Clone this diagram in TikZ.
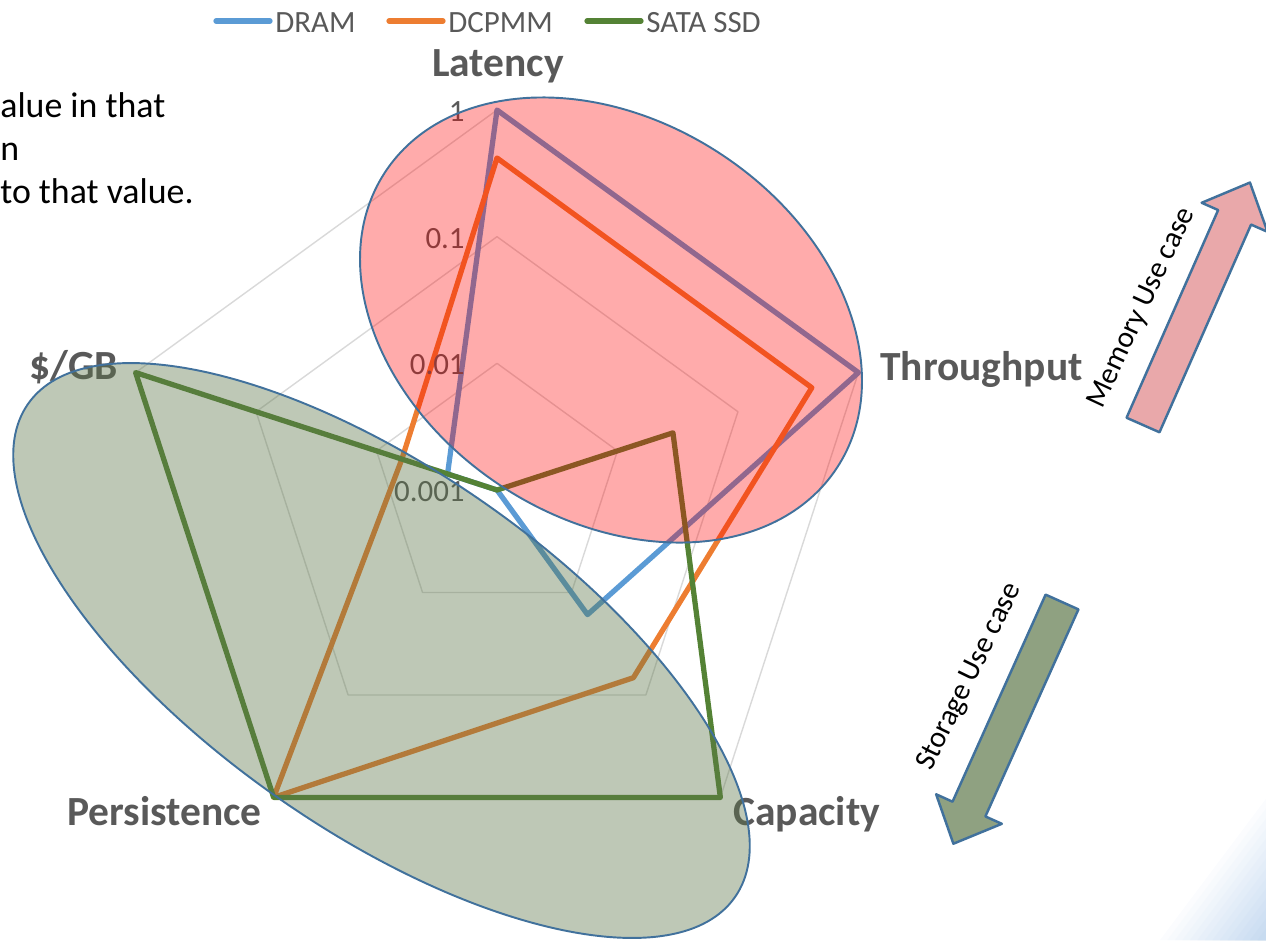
\documentclass[tikz,border=0pt]{standalone}
\usepackage{fontspec}
\setmainfont{Carlito}
\usetikzlibrary{positioning}
\definecolor{dramblue}{RGB}{91,155,213}
\definecolor{pmmorange}{RGB}{237,125,49}
\definecolor{ssdgreen}{RGB}{84,130,53}
\definecolor{gridgray}{RGB}{217,217,217}
\definecolor{labelgray}{RGB}{89,89,89}
\definecolor{edgeblue}{RGB}{65,113,156}
\definecolor{memfill}{RGB}{233,168,170}
\definecolor{stofill}{RGB}{143,161,129}
\definecolor{stoveil}{RGB}{92,118,72}
\definecolor{cornerblue}{RGB}{198,218,240}

\begin{document}
\begin{tikzpicture}[x=0.02cm,y=-0.02cm,line join=round,
  series/.style={line width=3pt,line cap=round},
  ring/.style={gridgray,line width=0.8pt},
  axislabel/.style={font=\fontsize{23.6}{28}\selectfont\bfseries,text=labelgray,inner sep=0pt},
  ticklabel/.style={font=\fontsize{17.6}{21}\selectfont,text=labelgray,inner sep=0pt,anchor=base east},
  legendtext/.style={font=\fontsize{17.6}{21}\selectfont,text=labelgray,inner sep=0pt,anchor=base west},
  notetext/.style={font=\fontsize{20.4}{24}\selectfont,inner sep=0pt,anchor=base west},
  veil/.style={draw=edgeblue,line width=1.1pt},
  usecase/.style={draw=edgeblue,line width=1.4pt},
  usetext/.style={font=\fontsize{17}{20}\selectfont,inner sep=0pt}]
\useasboundingbox (0,0) rectangle (1266,940);
% slide background, bottom right corner
\foreach \k [evaluate=\k as \d using \k*6, evaluate=\k as \p using (\k+1)*7] in {0,...,13}
  \fill[cornerblue!\p!white] ({(928+\d)/0.8},940) -- (1266,{(479.2+\d)/0.6}) -- (1266,940) -- cycle;

% note text, cut at the left edge
\node[notetext] (note1) at (0,117) {alue in that};
\node[notetext] (note2) at (0,160) {n};
\node[notetext] (note3) at (0,203) {to that value.};

% legend
\draw[series,dramblue] (216,21) -- (270,21);
\node[legendtext] (ldram) at (275,32) {DRAM};
\draw[series,pmmorange] (389,21) -- (443,21);
\node[legendtext] (lpmm) at (448,32) {DCPMM};
\draw[series,ssdgreen] (587,21) -- (641,21);
\node[legendtext] (lssd) at (646,32) {SATA SSD};

% radar chart, log scale: 126.67 px per decade, centre = 0.001
\coordinate (c) at (497,490);
\begin{scope}[shift={(c)}]
\foreach \r in {126.67,253.33,380}
  \draw[ring] (-90:\r) -- (-18:\r) -- (54:\r) -- (126:\r) -- (198:\r) -- cycle;
\draw[series,dramblue] (-90:380) -- (-18:380) -- (54:154) -- (0,0) -- (198:52) -- cycle;
\draw[series,pmmorange] (-90:332) -- (-18:331) -- (54:232) -- (126:380) -- (198:100) -- cycle;
\draw[series,ssdgreen] (0,0) -- (-18:185) -- (54:380) -- (126:380) -- (198:380) -- cycle;
\end{scope}
\foreach \v/\y in {1/121,0.1/248,0.01/374,0.001/501}
  \node[ticklabel] at (465,\y) {\v};

\node[axislabel,anchor=base] (lat) at (498,76) {Latency};
\node[axislabel,anchor=base west] (thr) at (880,380) {Throughput};
\node[axislabel,anchor=base west] (cap) at (733,825) {Capacity};
\node[axislabel,anchor=base east] (per) at (262,825) {Persistence};
\node[axislabel,anchor=base east] (gb) at (118,379) {\$/GB};

% use case ellipses
\path[veil,fill=red,fill opacity=0.33,rotate around={-33.1:(611,320)}]
  (611,320) ellipse [x radius=270,y radius=199];
\path[veil,fill=stoveil,fill opacity=0.4,rotate around={-34.9:(381.5,650.5)}]
  (381.5,650.5) ellipse [x radius=431,y radius=180];

% use case arrows
\begin{scope}[shift={(1143,425)},rotate=66.2]
\draw[usecase,fill=memfill] (0,-18) -- (227,-18) -- (227,-36) -- (265,0) -- (227,36) -- (227,18) -- (0,18) -- cycle;
\end{scope}
\begin{scope}[shift={(1062,602)},rotate=245.8]
\draw[usecase,fill=stofill] (0,-18) -- (227,-18) -- (227,-36) -- (265,0) -- (227,36) -- (227,18) -- (0,18) -- cycle;
\end{scope}
\node[usetext,rotate=65] (memtext) at (1142,308) {Memory Use case};
\node[usetext,rotate=64] (stotext) at (970,677) {Storage Use case};
\end{tikzpicture}
\end{document}
